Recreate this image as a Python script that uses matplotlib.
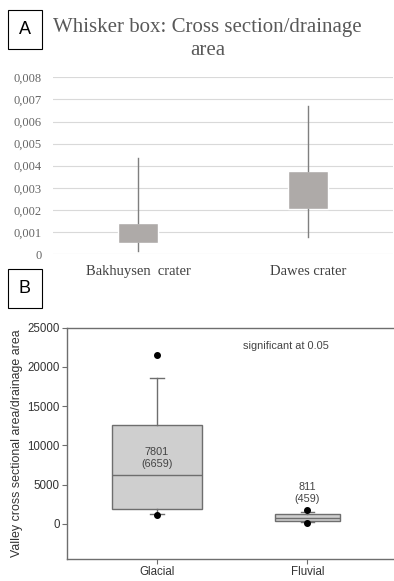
import matplotlib
matplotlib.use("Agg")
import matplotlib.pyplot as plt
from matplotlib.patches import Rectangle

# panel A: Excel-style whisker boxes
craters = ["Bakhuysen  crater", "Dawes crater"]
crater_min = [0.00015, 0.00075]
crater_q1 = [0.00049, 0.00202]
crater_q3 = [0.00139, 0.00377]
crater_max = [0.00433, 0.0067]
a_ticks = [0, 0.001, 0.002, 0.003, 0.004, 0.005, 0.006, 0.007, 0.008]
a_ticklabels = ["0", "0,001", "0,002", "0,003", "0,004", "0,005", "0,006", "0,007", "0,008"]

# panel B: glacial vs fluvial
valleys = ["Glacial", "Fluvial"]
v_whislo = [1300, 250]
v_q1 = [1900, 420]
v_med = [6300, 800]
v_q3 = [12550, 1230]
v_whishi = [18600, 1550]
v_fliers = [[21500, 1150], [1780, 150]]
v_means = ["7801\n(6659)", "811\n(459)"]
b_ticks = [0, 5000, 10000, 15000, 20000, 25000]

fig = plt.figure(figsize=(3.94, 5.81), dpi=100)

# ---------------- panel A
axA = fig.add_axes([0.1345, 0.5628, 0.863, 0.3041])
statsA = []
for i in range(2):
    mid = (crater_q1[i] + crater_q3[i]) / 2
    statsA.append(dict(whislo=crater_min[i], q1=crater_q1[i], med=mid,
                       q3=crater_q3[i], whishi=crater_max[i], fliers=[]))
axA.bxp(statsA, positions=[0.5, 1.5], widths=0.24, showcaps=False,
        showfliers=False, patch_artist=True,
        boxprops=dict(facecolor="#aeaaa8", edgecolor="white", linewidth=1),
        whiskerprops=dict(color="#7f7f7f", linewidth=1),
        medianprops=dict(linewidth=0), zorder=3)
axA.set_xlim(0, 2)
axA.set_ylim(0, 0.008)
axA.set_yticks(a_ticks)
axA.set_yticklabels(a_ticklabels, fontfamily="Liberation Serif", fontsize=9, color="#666666")
axA.set_xticks([0.5, 1.5])
axA.set_xticklabels(craters, fontfamily="Liberation Serif", fontsize=10.5, color="#404040")
axA.tick_params(length=0, pad=8)
axA.tick_params(axis="x", pad=8)
axA.grid(axis="y", color="#d9d9d9", linewidth=0.8)
axA.set_axisbelow(True)
for s in axA.spines.values():
    s.set_visible(False)
fig.text(0.527, 0.969, "Whisker box: Cross section/drainage\narea", ha="center", va="top",
         fontfamily="Liberation Serif", fontsize=15, color="#595959", linespacing=1.3)

# ---------------- panel B
axB = fig.add_axes([0.1693, 0.0373, 0.8300, 0.3987])
statsB = []
for i in range(2):
    statsB.append(dict(whislo=v_whislo[i], q1=v_q1[i], med=v_med[i], q3=v_q3[i],
                       whishi=v_whishi[i], fliers=v_fliers[i]))
gray = "#6e6e6e"
axB.bxp(statsB, positions=[1, 2], widths=[0.6, 0.43], patch_artist=True,
        boxprops=dict(facecolor="#cfcfcf", edgecolor=gray, linewidth=1),
        whiskerprops=dict(color=gray, linewidth=1),
        capprops=dict(color=gray, linewidth=1),
        capwidths=[0.09, 0.09],
        medianprops=dict(color=gray, linewidth=1),
        flierprops=dict(marker="o", markerfacecolor="black", markeredgecolor="black", markersize=4))
axB.set_xlim(0.4, 2.575)
axB.set_ylim(-4500, 25000)
axB.set_yticks(b_ticks)
axB.set_yticklabels([str(t) for t in b_ticks], fontfamily="Liberation Sans", fontsize=8.3, color="#333333")
axB.set_xticks([1, 2])
axB.set_xticklabels(valleys, fontfamily="Liberation Sans", fontsize=8.3, color="#333333")
axB.tick_params(color=gray, length=3.5, width=0.8, pad=1.5)
axB.set_ylabel("Valley cross sectional area/drainage area", fontfamily="Liberation Sans",
               fontsize=8.9, color="#333333", labelpad=3)
axB.spines["right"].set_visible(False)
for s in ["left", "top", "bottom"]:
    axB.spines[s].set_color(gray)
    axB.spines[s].set_linewidth(1)
axB.text(1, 8400, v_means[0], ha="center", va="center", fontfamily="Liberation Sans",
         fontsize=7.8, color="#444444", linespacing=1.15)
axB.text(2, 3950, v_means[1], ha="center", va="center", fontfamily="Liberation Sans",
         fontsize=7.8, color="#444444", linespacing=1.15)
axB.text(1.86, 22700, "significant at 0.05", ha="center", va="center",
         fontfamily="Liberation Sans", fontsize=7.9, color="#444444")

# panel letters
for lab, y0 in [("A", 1 - 49 / 581), ("B", 1 - 308 / 581)]:
    fig.patches.append(Rectangle((8 / 394, y0), 34 / 394, 39 / 581, transform=fig.transFigure,
                                 facecolor="white", edgecolor="black", linewidth=0.8))
    fig.text(25 / 394, y0 + 19.5 / 581, lab, ha="center", va="center",
             fontfamily="Liberation Sans", fontsize=13)

fig.savefig("out.png", dpi=100)
